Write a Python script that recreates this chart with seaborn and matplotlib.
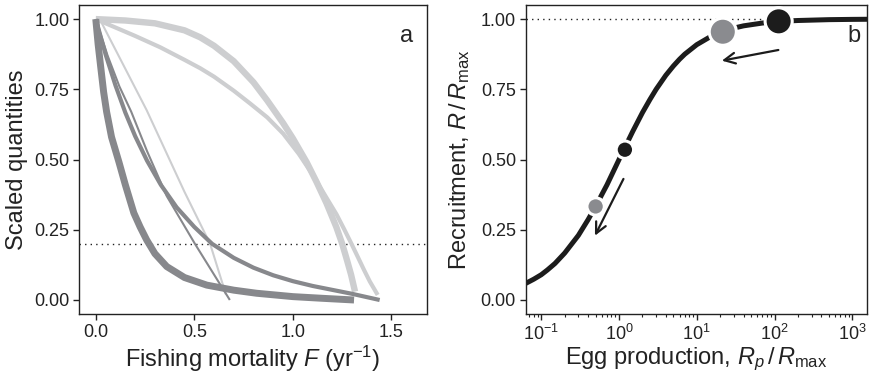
import numpy as np
import pandas as pd
import matplotlib
matplotlib.use('Agg')
import matplotlib.pyplot as plt
import seaborn as sns
from matplotlib.ticker import FixedLocator, LogLocator, NullFormatter, FormatStrFormatter

# ---------------- Panel a data ----------------
F_thick_light = [0.0, 0.15, 0.3, 0.45, 0.53, 0.6, 0.7, 0.8, 0.87, 0.95, 1.0, 1.07, 1.12, 1.17, 1.22, 1.25, 1.275, 1.295, 1.315]
y_thick_light = [1.0, 0.995, 0.985, 0.96, 0.935, 0.905, 0.85, 0.775, 0.71, 0.63, 0.575, 0.49, 0.42, 0.345, 0.26, 0.2, 0.14, 0.09, 0.03]

F_med_light = [0.0, 0.1, 0.2, 0.326, 0.45, 0.53, 0.6, 0.7, 0.782, 0.87, 0.951, 1.03, 1.103, 1.16, 1.221, 1.26, 1.297, 1.33, 1.36, 1.39, 1.43]
y_med_light = [1.0, 0.97, 0.94, 0.9, 0.855, 0.825, 0.795, 0.745, 0.7, 0.65, 0.592, 0.52, 0.443, 0.376, 0.305, 0.252, 0.2, 0.152, 0.108, 0.066, 0.018]

F_thin_light = [0.02, 0.258, 0.45, 0.58, 0.66]
y_thin_light = [1.0, 0.676, 0.385, 0.2, 0.02]

F_thick_dark = [0.0, 0.012, 0.025, 0.04, 0.055, 0.08, 0.118, 0.15, 0.193, 0.225, 0.258, 0.30, 0.36, 0.45, 0.563, 0.7, 0.816, 1.0, 1.15, 1.31]
y_thick_dark = [1.0, 0.91, 0.83, 0.74, 0.67, 0.58, 0.49, 0.41, 0.31, 0.26, 0.214, 0.165, 0.119, 0.08, 0.053, 0.035, 0.024, 0.012, 0.006, 0.0]

F_med_dark = [0.0, 0.05, 0.1, 0.15, 0.2, 0.26, 0.33, 0.41, 0.5, 0.59, 0.7, 0.8, 0.9, 1.0, 1.1, 1.2, 1.3, 1.44]
y_med_dark = [1.0, 0.874, 0.764, 0.667, 0.583, 0.496, 0.41, 0.33, 0.26, 0.2, 0.15, 0.115, 0.088, 0.067, 0.05, 0.036, 0.022, 0.0]

F_thin_dark = [0.0, 0.06, 0.12, 0.18, 0.26, 0.36, 0.503, 0.68]
y_thin_dark = [1.0, 0.87, 0.76, 0.67, 0.53, 0.37, 0.2, 0.0]

# ---------------- Panel b data ----------------
egg = [0.063, 0.08, 0.1, 0.12, 0.15, 0.2, 0.3, 0.4, 0.5, 0.6, 0.7, 0.85, 1.0, 1.2, 1.5, 2.0, 2.5, 3.0, 4.0, 5.0, 6.0, 7.0,
       10.0, 15.0, 20.0, 30.0, 40.0, 50.0, 70.0, 100.0, 150.0, 200.0, 500.0, 1000.0, 1600.0]
recruit = [0.059, 0.074, 0.09, 0.107, 0.13, 0.167, 0.23, 0.286, 0.333, 0.375, 0.41, 0.459, 0.5, 0.545, 0.6, 0.667, 0.714,
           0.75, 0.8, 0.833, 0.857, 0.875, 0.909, 0.9375, 0.952, 0.968, 0.976, 0.98, 0.986, 0.99, 0.9934, 0.995, 0.998,
           0.999, 0.9994]

pts_small_x = [1.19, 0.5]
pts_small_y = [0.535, 0.333]
pts_small_c = ['#1c1c1c', '#8a8b8f']
pts_big_x = [113.0, 21.6]
pts_big_y = [0.992, 0.955]
pts_big_c = ['#1c1c1c', '#8a8b8f']

arrows = [((112.0, 0.89), (21.0, 0.852)), ((1.14, 0.431), (0.49, 0.229))]

yticks = [0.0, 0.25, 0.5, 0.75, 1.0]
xticks_a = [0.0, 0.5, 1.0, 1.5]

LIGHT = '#cdced0'
DARK = '#87888c'

sns.set_theme(style='ticks')
plt.rcParams['font.family'] = ['Liberation Sans', 'DejaVu Sans']
plt.rcParams['mathtext.fontset'] = 'custom'
plt.rcParams['mathtext.rm'] = 'Liberation Sans'
plt.rcParams['mathtext.it'] = 'Liberation Sans:italic'
plt.rcParams['mathtext.default'] = 'regular'

fig = plt.figure(figsize=(8.73, 3.77), dpi=100)
axa = fig.add_axes([0.0905, 0.167, 0.3986, 0.8196])
axb = fig.add_axes([0.6022, 0.167, 0.391, 0.8196])

def curve(ax, xs, ys, color, lw, z):
    df = pd.DataFrame({'x': xs, 'y': ys})
    sns.lineplot(data=df, x='x', y='y', ax=ax, color=color, linewidth=lw,
                 sort=False, estimator=None, zorder=z)
    ax.lines[-1].set_solid_capstyle('butt')
    ax.lines[-1].set_solid_joinstyle('round')

# Panel a
axa.axhline(0.2, color='#222222', lw=1.0, ls=(0, (1, 3)), zorder=1)
curve(axa, F_thin_light, y_thin_light, LIGHT, 1.5, 2)
curve(axa, F_med_light, y_med_light, LIGHT, 3.0, 2)
curve(axa, F_thick_light, y_thick_light, LIGHT, 4.6, 2)
curve(axa, F_med_dark, y_med_dark, DARK, 3.0, 3)
curve(axa, F_thin_dark, y_thin_dark, DARK, 1.5, 3)
curve(axa, F_thick_dark, y_thick_dark, DARK, 5.0, 3)

axa.set_xlim(-0.085, 1.68)
axa.set_ylim(-0.05, 1.05)
axa.xaxis.set_major_locator(FixedLocator(xticks_a))
axa.xaxis.set_major_formatter(FormatStrFormatter('%.1f'))
axa.yaxis.set_major_locator(FixedLocator(yticks))
axa.yaxis.set_major_formatter(FormatStrFormatter('%.2f'))
axa.set_xlabel('Fishing mortality $\\mathit{F}$ (yr$^{-1}$)', fontsize=17, labelpad=2)
axa.set_ylabel('Scaled quantities', fontsize=17, labelpad=4.5)
axa.text(0.96, 0.90, 'a', transform=axa.transAxes, fontsize=17, ha='right', va='center')

# Panel b
axb.axhline(1.0, color='#222222', lw=1.0, ls=(0, (1, 3)), zorder=1)
curve(axb, egg, recruit, '#1c1c1c', 3.6, 2)
sns.scatterplot(x=pts_small_x, y=pts_small_y, ax=axb, hue=pts_small_c, palette={c: c for c in pts_small_c},
                s=12.5 ** 2, edgecolor='white', linewidth=2.2, legend=False, zorder=4)
sns.scatterplot(x=pts_big_x, y=pts_big_y, ax=axb, hue=pts_big_c, palette={c: c for c in pts_big_c},
                s=19.5 ** 2, edgecolor='white', linewidth=2.2, legend=False, zorder=4)
for (x0, y0), (x1, y1) in arrows:
    axb.annotate('', xy=(x1, y1), xytext=(x0, y0),
                 arrowprops=dict(arrowstyle='->,head_length=0.65,head_width=0.32', color='#1c1c1c', lw=1.6,
                                 shrinkA=0, shrinkB=0), zorder=5)
axb.set_xscale('log')
axb.set_xlim(10 ** -1.2, 10 ** 3.19)
axb.set_ylim(-0.05, 1.05)
axb.xaxis.set_major_locator(LogLocator(base=10, numticks=10))
axb.xaxis.set_minor_locator(LogLocator(base=10, subs=np.arange(2, 10), numticks=20))
axb.xaxis.set_minor_formatter(NullFormatter())
axb.yaxis.set_major_locator(FixedLocator(yticks))
axb.yaxis.set_major_formatter(FormatStrFormatter('%.2f'))
axb.set_xlabel('Egg production, $\\mathit{R_p}\\,/\\,\\mathit{R}_{\\rm max}$', fontsize=17, labelpad=1)
axb.set_ylabel('Recruitment, $\\mathit{R}\\,/\\,\\mathit{R}_{\\rm max}$', fontsize=17, labelpad=6)
axb.text(0.982, 0.90, 'b', transform=axb.transAxes, fontsize=17, ha='right', va='center')

for ax in (axa, axb):
    for sp in ax.spines.values():
        sp.set_linewidth(1.0)
        sp.set_color('#222222')
    ax.tick_params(axis='both', which='major', direction='out', length=4, width=1.0,
                   labelsize=13, color='#222222', labelcolor='#222222', pad=3)
    ax.tick_params(axis='both', which='minor', direction='out', length=2.5, width=0.8, color='#222222')
    ax.xaxis.label.set_color('#222222')
    ax.yaxis.label.set_color('#222222')

fig.savefig('out.png', dpi=100)
